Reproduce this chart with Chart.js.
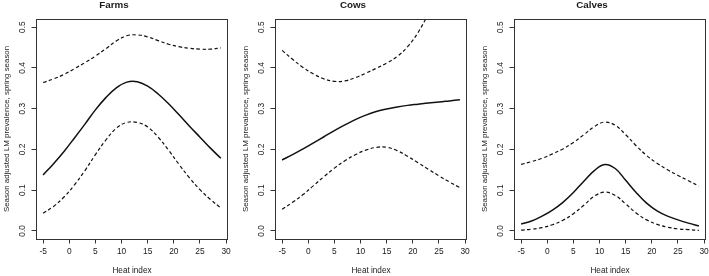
<!DOCTYPE html>
<html lang="en">
<head>
  <meta charset="UTF-8">
  <title>Season adjusted LM prevalence vs heat index</title>
  <script src="https://cdn.jsdelivr.net/npm/chart.js@4.4.1/dist/chart.umd.min.js"></script>
  <style>
    html, body { margin: 0; padding: 0; background: #fff; overflow: hidden; }
    .panel { position: absolute; top: 0; width: 236px; height: 276px; }
  </style>
</head>
<body>
  <div class="panel" style="left:0px"><canvas id="farms"></canvas></div>
  <div class="panel" style="left:239px"><canvas id="cows"></canvas></div>
  <div class="panel" style="left:478px"><canvas id="calves"></canvas></div>
<script>
const heatIndex = [-5, -3, -1, 1, 3, 5, 7, 9, 11, 13, 15, 17, 19, 21, 23, 25, 27, 29];

// Farms
const farmsMean  = [0.137, 0.165, 0.195, 0.228, 0.262, 0.297, 0.327, 0.351, 0.365, 0.366, 0.355, 0.336, 0.312, 0.285, 0.257, 0.230, 0.203, 0.178];
const farmsUpper = [0.364, 0.373, 0.384, 0.398, 0.413, 0.429, 0.447, 0.466, 0.479, 0.481, 0.476, 0.467, 0.458, 0.452, 0.448, 0.446, 0.446, 0.449];
const farmsLower = [0.043, 0.060, 0.083, 0.113, 0.148, 0.187, 0.223, 0.252, 0.266, 0.266, 0.255, 0.230, 0.198, 0.163, 0.130, 0.101, 0.077, 0.056];

// Cows (upper band leaves the plot above 0.52)
const cowsMean  = [0.174, 0.187, 0.201, 0.216, 0.231, 0.246, 0.260, 0.273, 0.284, 0.293, 0.299, 0.304, 0.308, 0.311, 0.314, 0.316, 0.319, 0.322];
const cowsUpper = [0.443, 0.421, 0.401, 0.385, 0.373, 0.367, 0.368, 0.376, 0.387, 0.399, 0.412, 0.428, 0.452, 0.487, 0.535, 0.600, 0.680, 0.770];
const cowsLower = [0.053, 0.070, 0.089, 0.111, 0.133, 0.154, 0.172, 0.187, 0.198, 0.205, 0.205, 0.197, 0.183, 0.167, 0.151, 0.135, 0.120, 0.106];

// Calves
const calvesMean  = [0.017, 0.024, 0.036, 0.051, 0.070, 0.094, 0.122, 0.148, 0.163, 0.153, 0.124, 0.094, 0.068, 0.049, 0.036, 0.027, 0.019, 0.012];
const calvesUpper = [0.163, 0.170, 0.178, 0.189, 0.201, 0.217, 0.236, 0.256, 0.267, 0.259, 0.236, 0.209, 0.185, 0.166, 0.150, 0.136, 0.123, 0.110];
const calvesLower = [0.002, 0.004, 0.008, 0.015, 0.026, 0.042, 0.063, 0.085, 0.095, 0.087, 0.066, 0.044, 0.027, 0.016, 0.009, 0.005, 0.003, 0.001];

const xTicks = [-5, 0, 5, 10, 15, 20, 25, 30];
const yTicks = [0, 0.1, 0.2, 0.3, 0.4, 0.5];

const FONT = "'Liberation Sans', Arial, sans-serif";
const INK = '#1a1a1a';

// R style box round the plot region
const boxPlugin = {
  id: 'box',
  afterDatasetsDraw(chart) {
    const a = chart.chartArea;
    const ctx = chart.ctx;
    ctx.save();
    ctx.strokeStyle = '#333';
    ctx.lineWidth = 1;
    ctx.strokeRect(Math.round(a.left) + 0.5, Math.round(a.top) + 0.5,
                   Math.round(a.right - a.left) - 1, Math.round(a.bottom - a.top));
    ctx.restore();
  }
};

function toPoints(ys) {
  return heatIndex.map((x, i) => ({ x: x, y: ys[i] }));
}

function makeChart(id, title, mean, upper, lower) {
  const line = (data, dashed) => ({
    data: toPoints(data),
    borderColor: '#111',
    borderWidth: dashed ? 1.2 : 1.5,
    borderDash: dashed ? [3.5, 2.5] : [],
    pointRadius: 0,
    tension: 0.4,
    fill: false
  });

  return new Chart(document.getElementById(id), {
    type: 'line',
    data: {
      datasets: [line(upper, true), line(mean, false), line(lower, true)]
    },
    options: {
      responsive: true,
      maintainAspectRatio: false,
      animation: false,
      layout: { padding: { left: 0, right: 8, top: 0, bottom: 0 } },
      plugins: {
        legend: { display: false },
        tooltip: { enabled: false },
        title: {
          display: true,
          text: title,
          color: INK,
          font: { family: FONT, size: 9.8, weight: 'bold', lineHeight: 1 },
          padding: { top: 0.5, bottom: 8.7 }
        }
      },
      scales: {
        x: {
          type: 'linear',
          min: -6.36,
          max: 30.36,
          afterBuildTicks: axis => { axis.ticks = xTicks.map(v => ({ value: v })); },
          afterFit: axis => { axis.height = 37; },
          grid: { drawOnChartArea: false, tickLength: 4.5, tickColor: '#333' },
          border: { display: false },
          ticks: { color: INK, font: { family: FONT, size: 8.4 }, padding: 3, maxRotation: 0 },
          title: { display: true, text: 'Heat index', color: INK, font: { family: FONT, size: 8.2 }, padding: { top: 0, bottom: 0 } }
        },
        y: {
          type: 'linear',
          min: -0.02,
          max: 0.52,
          afterBuildTicks: axis => { axis.ticks = yTicks.map(v => ({ value: v })); },
          afterFit: axis => { axis.width = 36; },
          grid: { drawOnChartArea: false, tickLength: 4.5, tickColor: '#333' },
          border: { display: false },
          ticks: {
            color: INK,
            font: { family: FONT, size: 8.4 },
            padding: 2.5,
            minRotation: 90,
            maxRotation: 90,
            crossAlign: 'center',
            callback: v => v.toFixed(1)
          },
          title: {
            display: true,
            text: 'Season adjusted LM prevalence, spring season',
            color: INK,
            font: { family: FONT, size: 7.9 },
            padding: { top: 2.5, bottom: 0 }
          }
        }
      }
    },
    plugins: [boxPlugin]
  });
}

makeChart('farms', 'Farms', farmsMean, farmsUpper, farmsLower);
makeChart('cows', 'Cows', cowsMean, cowsUpper, cowsLower);
makeChart('calves', 'Calves', calvesMean, calvesUpper, calvesLower);
</script>
</body>
</html>
